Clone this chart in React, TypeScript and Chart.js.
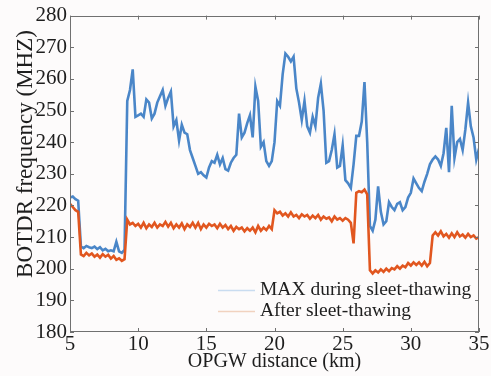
import React, { useEffect, useRef } from "react";
import { Chart, registerables } from "chart.js";

Chart.register(...registerables);

// Sample positions along the OPGW line (km)
const START_KM = 5;
const STEP_KM = 0.2;

// MAX during sleet-thawing (MHz), one value per 0.2 km from 5 km to 35 km
const maxDuring: number[] = [
  222.5, 222.8, 222.0, 221.5, 207.0, 206.5, 207.2, 206.8, 206.5, 207.0,
  206.2, 206.8, 205.8, 206.3, 205.5, 205.8, 205.5, 208.5, 205.5, 205.0,
  206.0, 253.0, 256.5, 263.0, 248.0, 248.5, 249.0, 248.0, 253.5, 252.5,
  247.5, 249.0, 252.5, 254.5, 256.5, 251.5, 254.0, 256.0, 245.0, 247.0,
  240.5, 245.5, 243.0, 242.5, 237.5, 235.0, 232.5, 230.0, 230.5, 229.5,
  228.8, 232.0, 234.0, 233.5, 236.0, 233.0, 235.0, 231.5, 231.0, 233.5,
  235.0, 236.0, 249.0, 241.5, 243.0, 246.0, 248.5, 241.5, 257.5, 253.0,
  238.5, 240.0, 234.0, 232.5, 234.0, 240.0, 253.0, 251.5, 261.5, 268.0,
  267.0, 265.5, 267.0, 257.0, 252.5, 247.0, 253.0, 245.0, 243.0, 248.0,
  245.0, 254.0, 258.5, 250.0, 233.5, 234.0, 237.5, 242.5, 232.0, 232.5,
  239.0, 228.0, 227.0, 225.5, 233.0, 242.0, 242.0, 246.5, 259.0, 240.0,
  213.5, 212.0, 215.5, 226.0, 218.0, 214.0, 215.0, 221.0, 219.5, 218.5,
  220.5, 221.0, 218.5, 219.5, 222.5, 224.0, 228.5, 227.0, 225.5, 224.5,
  227.5, 230.0, 233.0, 234.5, 235.5, 234.5, 232.5, 236.5, 244.5, 230.5,
  251.5, 235.0, 240.0, 241.0, 237.5, 244.0, 252.5, 245.0, 241.5, 234.5,
  238.0,
];

// After sleet-thawing (MHz)
const afterThaw: number[] = [
  220.5, 219.5, 218.5, 218.0, 204.5, 204.0, 205.0, 204.2, 204.8, 203.8,
  204.5, 203.5, 204.6, 203.8, 204.4, 203.2, 204.0, 202.8, 203.3, 202.5,
  203.0, 215.5, 214.0, 214.5, 213.5, 214.2, 213.0, 214.5, 212.8, 214.0,
  213.2, 214.5, 213.0, 214.0, 213.5, 214.8, 213.3, 214.5, 212.8, 214.0,
  213.0, 214.3, 212.5, 214.0, 213.2, 214.5, 213.0, 214.5, 212.5, 214.0,
  213.0, 214.2, 213.5, 214.0, 212.8, 214.2, 213.0, 213.8, 212.5, 213.5,
  212.0, 213.2, 212.5, 213.0, 211.8, 212.8, 212.0, 213.0, 211.5, 213.5,
  212.0, 213.0, 212.2, 213.5, 212.5, 218.5, 217.5, 218.0, 216.8, 217.5,
  216.5, 217.8, 216.5, 217.0, 216.0, 217.2, 216.5, 217.0, 215.8, 216.8,
  216.0, 217.0, 215.5, 216.5, 215.8, 216.2, 215.0, 216.5, 215.5, 216.0,
  215.2, 216.0, 215.5, 214.5, 208.0, 224.0, 224.5, 224.2, 225.0, 223.5,
  199.5, 198.5, 199.5, 198.8, 199.8, 199.0, 200.0, 199.2, 200.2, 199.8,
  200.8, 200.0, 201.0, 200.5, 201.8, 201.0, 202.0, 201.2, 202.0, 201.0,
  202.2, 200.8, 201.8, 210.5, 211.5, 210.5, 211.8, 210.2, 211.0, 209.8,
  211.2, 210.0, 211.5, 210.2, 210.8, 209.8, 211.0, 210.0, 210.5, 209.5,
  210.0,
];

const X_MIN = 5;
const X_MAX = 35;
const X_STEP = 5;
const Y_MIN = 180;
const Y_MAX = 280;
const Y_STEP = 10;

const X_TITLE = "OPGW distance (km)";
const Y_TITLE = "BOTDR frequency (MHZ)";
const LEGEND_LABELS = ["MAX during sleet-thawing", "After sleet-thawing"];

const BLUE = "#4a86c8";
const ORANGE = "#e1561f";
const BLUE_PALE = "#c9dcf0";
const ORANGE_PALE = "#f1d2bf";
const TEXT = "#1e1e1e";
const FRAME = "#707070";
const SERIF = "Liberation Serif, Times New Roman, DejaVu Serif, serif";

export default function App() {
  const ref = useRef<HTMLCanvasElement>(null);

  useEffect(() => {
    let chart: any = null;
    let cancelled = false;
    const toPts = (arr: number[]) =>
      arr.map((y, i) => ({ x: Math.round((START_KM + i * STEP_KM) * 10) / 10, y }));

    const decor = {
      id: "decor",
      beforeDraw(c: any) {
        const { ctx, width, height } = c;
        ctx.save();
        ctx.fillStyle = "#fdfbfb";
        ctx.fillRect(0, 0, width, height);
        ctx.restore();
      },
      afterDraw(c: any) {
        const { ctx, chartArea: a, scales } = c;
        const xs = scales.x;
        const ys = scales.y;
        ctx.save();
        ctx.strokeStyle = FRAME;
        ctx.lineWidth = 1;
        ctx.strokeRect(Math.round(a.left) + 0.5, Math.round(a.top) + 0.5,
          Math.round(a.right - a.left) - 1, Math.round(a.bottom - a.top) - 1);
        const tl = 4;
        ctx.beginPath();
        for (let v = X_MIN; v <= X_MAX; v += X_STEP) {
          const px = Math.round(xs.getPixelForValue(v)) + 0.5;
          ctx.moveTo(px, a.bottom);
          ctx.lineTo(px, a.bottom - tl);
          ctx.moveTo(px, a.top);
          ctx.lineTo(px, a.top + tl);
        }
        for (let v = Y_MIN; v <= Y_MAX; v += Y_STEP) {
          const py = Math.round(ys.getPixelForValue(v)) + 0.5;
          ctx.moveTo(a.left, py);
          ctx.lineTo(a.left + tl, py);
          ctx.moveTo(a.right, py);
          ctx.lineTo(a.right - tl, py);
        }
        ctx.stroke();

        ctx.fillStyle = TEXT;
        ctx.textAlign = "center";
        ctx.textBaseline = "alphabetic";
        ctx.font = `20px ${SERIF}`;
        ctx.fillText(X_TITLE, (a.left + a.right) / 2, 367);
        ctx.save();
        ctx.translate(32, 154);
        ctx.rotate(-Math.PI / 2);
        ctx.font = `23px ${SERIF}`;
        ctx.fillText(Y_TITLE, 0, 0);
        ctx.restore();

        const items = [
          { label: LEGEND_LABELS[0], color: BLUE_PALE, y: 290 },
          { label: LEGEND_LABELS[1], color: ORANGE_PALE, y: 311 },
        ];
        ctx.font = `19.5px ${SERIF}`;
        ctx.textAlign = "left";
        ctx.textBaseline = "middle";
        for (const it of items) {
          ctx.strokeStyle = it.color;
          ctx.lineWidth = 1.5;
          ctx.beginPath();
          ctx.moveTo(218, it.y + 0.5);
          ctx.lineTo(255, it.y + 0.5);
          ctx.stroke();
          ctx.fillStyle = TEXT;
          ctx.fillText(it.label, 260, it.y);
        }
        ctx.restore();
      },
    };

    const build = () => {
      if (cancelled || !ref.current) return;
      chart = new Chart(ref.current, {
        type: "line",
        data: {
          datasets: [
            {
              label: LEGEND_LABELS[1],
              data: toPts(afterThaw),
              borderColor: ORANGE,
              backgroundColor: ORANGE,
              borderWidth: 2.6,
              pointRadius: 0,
              tension: 0,
              order: 0,
            },
            {
              label: LEGEND_LABELS[0],
              data: toPts(maxDuring),
              borderColor: BLUE,
              backgroundColor: BLUE,
              borderWidth: 2.6,
              pointRadius: 0,
              tension: 0,
              order: 1,
            },
          ],
        },
        options: {
          responsive: false,
          animation: false,
          layout: { padding: { top: 15, right: 12, left: 0, bottom: 0 } },
          plugins: { legend: { display: false }, tooltip: { enabled: false } },
          scales: {
            x: {
              type: "linear",
              min: X_MIN,
              max: X_MAX,
              ticks: {
                stepSize: X_STEP,
                color: TEXT,
                font: { family: SERIF, size: 21 },
                padding: 0,
                maxRotation: 0,
              },
              grid: { display: false, drawTicks: false },
              border: { display: false },
              afterFit: (s: any) => {
                s.height = 44;
              },
            },
            y: {
              type: "linear",
              min: Y_MIN,
              max: Y_MAX,
              ticks: {
                stepSize: Y_STEP,
                color: TEXT,
                font: { family: SERIF, size: 21 },
                padding: 3,
              },
              grid: { display: false, drawTicks: false },
              border: { display: false },
              afterFit: (s: any) => {
                s.width = 70;
              },
            },
          },
        } as any,
        plugins: [decor],
      });
    };

    const fontsApi: any = (document as any).fonts;
    if (fontsApi && fontsApi.load) {
      Promise.all([
        fontsApi.load(`21px "Liberation Serif"`),
        fontsApi.load(`21px "DejaVu Serif"`),
      ]).then(build, build);
    } else {
      build();
    }
    return () => {
      cancelled = true;
      if (chart) chart.destroy();
    };
  }, []);

  return (
    <div style={{ position: "fixed", left: 0, top: 0, width: 491, height: 376 }}>
      <canvas ref={ref} width={491} height={376} style={{ display: "block" }} />
      <span style={{ position: "absolute", left: -9999, fontFamily: SERIF }}>.</span>
    </div>
  );
}
